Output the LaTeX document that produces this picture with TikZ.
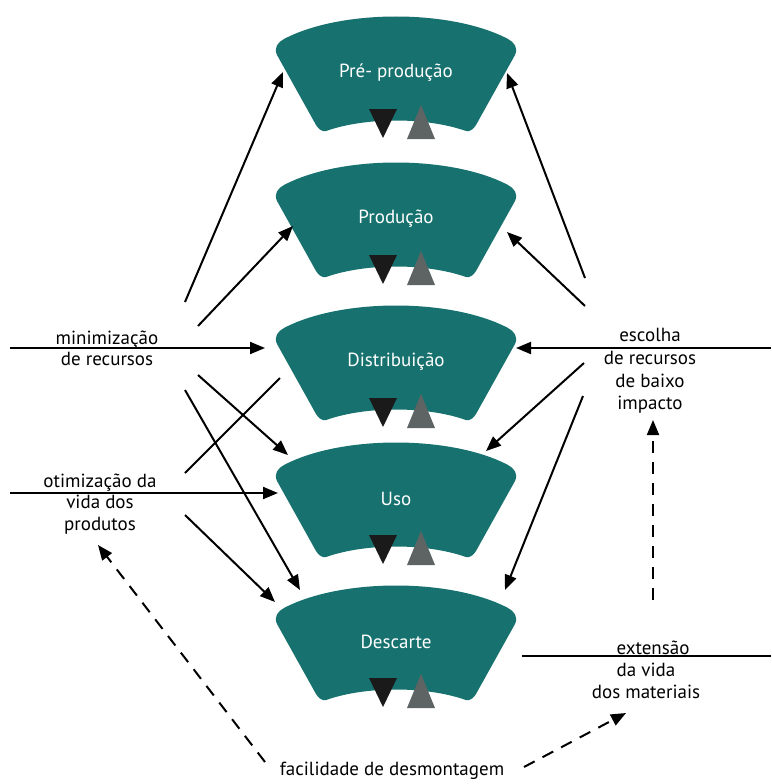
\documentclass[tikz,border=0pt]{standalone}
\usepackage{fontspec}
\setmainfont{PT Sans}
\usetikzlibrary{arrows.meta}
\definecolor{stagecol}{RGB}{23,114,111}
\definecolor{tridark}{RGB}{26,26,26}
\definecolor{trigrey}{RGB}{94,100,99}
\tikzset{
  stagetext/.style={text=white,font=\fontsize{19}{22}\selectfont,inner sep=0pt},
  lbl/.style={font=\fontsize{19}{22}\selectfont,align=center,inner sep=0pt},
  conn/.style={line width=2pt,-{Triangle[length=15pt,width=12pt]}},
  plainline/.style={line width=2pt},
  dashconn/.style={line width=2pt,dash pattern=on 12pt off 9pt,-{Triangle[length=15pt,width=12pt]}}
}
\newcommand\stagebox[4]{%
  \begin{scope}[shift={(#1,#2)}]
    \fill[stagecol] (-119,-18) .. controls (-122.4,-25.2) and (-118.2,-30.7) .. (-112,-34)
      .. controls (-55,-64) and (55,-64) .. (112,-34)
      .. controls (118.2,-30.7) and (122.4,-25.2) .. (119,-18)
      -- (80,52)
      .. controls (78,55.5) and (73.8,59.3) .. (70,58)
      .. controls (30,44) and (-30,44) .. (-70,58)
      .. controls (-73.8,59.3) and (-78,55.5) .. (-80,52) -- cycle;
    \fill[tridark] (-27,36) -- (1,36) -- (-13,65) -- cycle;
    \fill[trigrey] (25,32) -- (11,66) -- (39,66) -- cycle;
    \node[stagetext] (#3) at (0,0) {#4};
  \end{scope}}
\begin{document}
\begin{tikzpicture}[x=1pt,y=-1pt]
\useasboundingbox (0,0) rectangle (771,784);
\stagebox{396}{73}{pre}{Pré- produção}
\stagebox{396}{219}{prod}{Produção}
\stagebox{396}{362}{dist}{Distribuição}
\stagebox{396}{499}{uso}{Uso}
\stagebox{396}{642}{desc}{Descarte}

% labels
\node[lbl,font=\fontsize{19}{21}\selectfont] (minim) at (107,348) {minimização\\de recursos};
\node[lbl,font=\fontsize{19}{21.5}\selectfont] (otim) at (100,504) {otimização da\\vida dos\\produtos};
\node[lbl,font=\fontsize{19}{22.7}\selectfont] (escolha) at (650,371) {escolha\\de recursos\\de baixo\\impacto};
\node[lbl] (ext) at (646,670) {\hspace*{14pt}extensão\\da vida\\dos materiais};
\node[lbl] (facil) at (392,771) {facilidade de desmontagem};

% coordinates
\coordinate (l1s) at (185,302); \coordinate (l1e) at (283,72);
\coordinate (l2s) at (198,326); \coordinate (l2e) at (293,226);
\coordinate (l3s) at (10,348);  \coordinate (l3e) at (265,348);
\coordinate (l4s) at (198,375); \coordinate (l4e) at (288,455);
\coordinate (l5s) at (185,390); \coordinate (l5e) at (300,590);
\coordinate (l6s) at (185,473); \coordinate (l6e) at (280,378);
\coordinate (l7s) at (10,493);  \coordinate (l7e) at (278,493);
\coordinate (l8s) at (185,515); \coordinate (l8e) at (275,602);
\coordinate (r1s) at (585,278); \coordinate (r1e) at (507,73);
\coordinate (r2s) at (585,306); \coordinate (r2e) at (507,232);
\coordinate (r3s) at (771,348); \coordinate (r3e) at (516,348);
\coordinate (r4s) at (584,363); \coordinate (r4e) at (486,451);
\coordinate (r5s) at (583,396); \coordinate (r5e) at (505,590);
\coordinate (d1s) at (653,600); \coordinate (d1e) at (653,420);
\coordinate (e1s) at (522,656); \coordinate (e1e) at (771,656);
\coordinate (d2s) at (524,767); \coordinate (d2e) at (626,713);
\coordinate (d3s) at (265,762); \coordinate (d3e) at (98,545);

\draw[conn] (l1s) -- (l1e);
\draw[conn] (l2s) -- (l2e);
\draw[conn] (l3s) -- (l3e);
\draw[conn] (l4s) -- (l4e);
\draw[conn] (l5s) -- (l5e);
\draw[plainline] (l6s) -- (l6e);
\draw[conn] (l7s) -- (l7e);
\draw[conn] (l8s) -- (l8e);
\draw[conn] (r1s) -- (r1e);
\draw[conn] (r2s) -- (r2e);
\draw[conn] (r3s) -- (r3e);
\draw[conn] (r4s) -- (r4e);
\draw[conn] (r5s) -- (r5e);
\draw[plainline] (e1s) -- (e1e);
\draw[dashconn] (d1s) -- (d1e);
\draw[dashconn] (d2s) -- (d2e);
\draw[dashconn] (d3s) -- (d3e);
\end{tikzpicture}
\end{document}
